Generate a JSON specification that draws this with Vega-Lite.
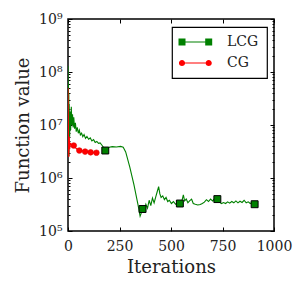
{
  "$schema": "https://vega.github.io/schema/vega-lite/v6.json",
  "width": 206,
  "height": 212,
  "autosize": {"type": "none"},
  "padding": {"left": 68, "top": 19, "right": 29, "bottom": 60},
  "config": {
    "view": {"stroke": "black", "strokeWidth": 1.5},
    "font": "DejaVu Serif",
    "axis": {"domain": false, "grid": false, "labelFont": "DejaVu Serif", "titleFont": "DejaVu Serif", "labelColor": "#222", "titleColor": "#222", "tickColor": "black", "tickWidth": 1, "labelFontSize": 14, "titleFontSize": 18, "titleFontWeight": "normal"}
  },
  "data": {"values": [
    {"series":"LCG","iteration":0,"value":1.3e8,"marker":false},
    {"series":"LCG","iteration":1,"value":2e7,"marker":false},
    {"series":"LCG","iteration":2,"value":6e7,"marker":false},
    {"series":"LCG","iteration":3,"value":8e6,"marker":false},
    {"series":"LCG","iteration":4,"value":4e7,"marker":false},
    {"series":"LCG","iteration":5,"value":2.6e6,"marker":false},
    {"series":"LCG","iteration":6,"value":2.5e7,"marker":false},
    {"series":"LCG","iteration":8,"value":6e6,"marker":false},
    {"series":"LCG","iteration":10,"value":1.8e7,"marker":false},
    {"series":"LCG","iteration":13,"value":8e6,"marker":false},
    {"series":"LCG","iteration":16,"value":2.2e7,"marker":false},
    {"series":"LCG","iteration":19,"value":1e7,"marker":false},
    {"series":"LCG","iteration":22,"value":1.6e7,"marker":false},
    {"series":"LCG","iteration":25,"value":9e6,"marker":false},
    {"series":"LCG","iteration":28,"value":1.4e7,"marker":false},
    {"series":"LCG","iteration":32,"value":8.5e6,"marker":false},
    {"series":"LCG","iteration":36,"value":1.1e7,"marker":false},
    {"series":"LCG","iteration":40,"value":7.5e6,"marker":false},
    {"series":"LCG","iteration":45,"value":9e6,"marker":false},
    {"series":"LCG","iteration":50,"value":7e6,"marker":false},
    {"series":"LCG","iteration":55,"value":8e6,"marker":false},
    {"series":"LCG","iteration":60,"value":6.5e6,"marker":false},
    {"series":"LCG","iteration":66,"value":7e6,"marker":false},
    {"series":"LCG","iteration":72,"value":6e6,"marker":false},
    {"series":"LCG","iteration":78,"value":6.6e6,"marker":false},
    {"series":"LCG","iteration":85,"value":5.6e6,"marker":false},
    {"series":"LCG","iteration":92,"value":6.1e6,"marker":false},
    {"series":"LCG","iteration":100,"value":5.4e6,"marker":false},
    {"series":"LCG","iteration":108,"value":5.7e6,"marker":false},
    {"series":"LCG","iteration":116,"value":5e6,"marker":false},
    {"series":"LCG","iteration":124,"value":5.3e6,"marker":false},
    {"series":"LCG","iteration":132,"value":4.7e6,"marker":false},
    {"series":"LCG","iteration":140,"value":4.9e6,"marker":false},
    {"series":"LCG","iteration":148,"value":4.5e6,"marker":false},
    {"series":"LCG","iteration":156,"value":4.6e6,"marker":false},
    {"series":"LCG","iteration":164,"value":4.2e6,"marker":false},
    {"series":"LCG","iteration":172,"value":3.8e6,"marker":false},
    {"series":"LCG","iteration":181,"value":3.3e6,"marker":true},
    {"series":"LCG","iteration":190,"value":3.5e6,"marker":false},
    {"series":"LCG","iteration":200,"value":3.8e6,"marker":false},
    {"series":"LCG","iteration":215,"value":3.9e6,"marker":false},
    {"series":"LCG","iteration":235,"value":3.85e6,"marker":false},
    {"series":"LCG","iteration":255,"value":3.95e6,"marker":false},
    {"series":"LCG","iteration":268,"value":3.8e6,"marker":false},
    {"series":"LCG","iteration":280,"value":3.1e6,"marker":false},
    {"series":"LCG","iteration":300,"value":1.6e6,"marker":false},
    {"series":"LCG","iteration":320,"value":7.5e5,"marker":false},
    {"series":"LCG","iteration":340,"value":3.1e5,"marker":false},
    {"series":"LCG","iteration":350,"value":1.9e5,"marker":false},
    {"series":"LCG","iteration":356,"value":2.2e5,"marker":false},
    {"series":"LCG","iteration":362,"value":2.6e5,"marker":true},
    {"series":"LCG","iteration":370,"value":2.4e5,"marker":false},
    {"series":"LCG","iteration":378,"value":3.2e5,"marker":false},
    {"series":"LCG","iteration":386,"value":2.7e5,"marker":false},
    {"series":"LCG","iteration":394,"value":3.8e5,"marker":false},
    {"series":"LCG","iteration":402,"value":3.0e5,"marker":false},
    {"series":"LCG","iteration":410,"value":4.2e5,"marker":false},
    {"series":"LCG","iteration":418,"value":3.4e5,"marker":false},
    {"series":"LCG","iteration":426,"value":4.4e5,"marker":false},
    {"series":"LCG","iteration":433,"value":5.5e5,"marker":false},
    {"series":"LCG","iteration":440,"value":6.9e5,"marker":false},
    {"series":"LCG","iteration":446,"value":5.0e5,"marker":false},
    {"series":"LCG","iteration":452,"value":4.3e5,"marker":false},
    {"series":"LCG","iteration":460,"value":4.6e5,"marker":false},
    {"series":"LCG","iteration":468,"value":3.9e5,"marker":false},
    {"series":"LCG","iteration":476,"value":4.3e5,"marker":false},
    {"series":"LCG","iteration":484,"value":3.6e5,"marker":false},
    {"series":"LCG","iteration":492,"value":3.8e5,"marker":false},
    {"series":"LCG","iteration":502,"value":3.3e5,"marker":false},
    {"series":"LCG","iteration":512,"value":3.6e5,"marker":false},
    {"series":"LCG","iteration":522,"value":3.2e5,"marker":false},
    {"series":"LCG","iteration":532,"value":3.4e5,"marker":false},
    {"series":"LCG","iteration":543,"value":3.3e5,"marker":true},
    {"series":"LCG","iteration":552,"value":3.6e5,"marker":false},
    {"series":"LCG","iteration":560,"value":4.8e5,"marker":false},
    {"series":"LCG","iteration":566,"value":3.7e5,"marker":false},
    {"series":"LCG","iteration":574,"value":4.0e5,"marker":false},
    {"series":"LCG","iteration":582,"value":3.4e5,"marker":false},
    {"series":"LCG","iteration":590,"value":3.7e5,"marker":false},
    {"series":"LCG","iteration":600,"value":4.0e5,"marker":false},
    {"series":"LCG","iteration":608,"value":3.3e5,"marker":false},
    {"series":"LCG","iteration":618,"value":3.2e5,"marker":false},
    {"series":"LCG","iteration":630,"value":3.1e5,"marker":false},
    {"series":"LCG","iteration":642,"value":3.15e5,"marker":false},
    {"series":"LCG","iteration":652,"value":3.3e5,"marker":false},
    {"series":"LCG","iteration":662,"value":3.5e5,"marker":false},
    {"series":"LCG","iteration":672,"value":3.9e5,"marker":false},
    {"series":"LCG","iteration":682,"value":3.6e5,"marker":false},
    {"series":"LCG","iteration":692,"value":4.0e5,"marker":false},
    {"series":"LCG","iteration":702,"value":3.7e5,"marker":false},
    {"series":"LCG","iteration":712,"value":4.1e5,"marker":false},
    {"series":"LCG","iteration":725,"value":4.0e5,"marker":true},
    {"series":"LCG","iteration":735,"value":3.5e5,"marker":false},
    {"series":"LCG","iteration":745,"value":3.3e5,"marker":false},
    {"series":"LCG","iteration":755,"value":3.45e5,"marker":false},
    {"series":"LCG","iteration":765,"value":3.3e5,"marker":false},
    {"series":"LCG","iteration":775,"value":3.55e5,"marker":false},
    {"series":"LCG","iteration":785,"value":3.35e5,"marker":false},
    {"series":"LCG","iteration":795,"value":3.6e5,"marker":false},
    {"series":"LCG","iteration":805,"value":3.4e5,"marker":false},
    {"series":"LCG","iteration":815,"value":3.7e5,"marker":false},
    {"series":"LCG","iteration":825,"value":3.4e5,"marker":false},
    {"series":"LCG","iteration":835,"value":3.65e5,"marker":false},
    {"series":"LCG","iteration":845,"value":3.45e5,"marker":false},
    {"series":"LCG","iteration":855,"value":3.8e5,"marker":false},
    {"series":"LCG","iteration":865,"value":3.4e5,"marker":false},
    {"series":"LCG","iteration":875,"value":3.55e5,"marker":false},
    {"series":"LCG","iteration":885,"value":3.3e5,"marker":false},
    {"series":"LCG","iteration":895,"value":3.45e5,"marker":false},
    {"series":"LCG","iteration":906,"value":3.2e5,"marker":true},
    {"series":"CG","iteration":0,"value":5e7,"marker":false},
    {"series":"CG","iteration":1,"value":2e7,"marker":false},
    {"series":"CG","iteration":2,"value":8e6,"marker":false},
    {"series":"CG","iteration":3,"value":3e6,"marker":false},
    {"series":"CG","iteration":4,"value":2.5e6,"marker":false},
    {"series":"CG","iteration":6,"value":6e6,"marker":false},
    {"series":"CG","iteration":8,"value":3.5e6,"marker":false},
    {"series":"CG","iteration":12,"value":4.6e6,"marker":false},
    {"series":"CG","iteration":18,"value":4e6,"marker":false},
    {"series":"CG","iteration":28,"value":4.1e6,"marker":true},
    {"series":"CG","iteration":40,"value":3.6e6,"marker":false},
    {"series":"CG","iteration":55,"value":3.3e6,"marker":true},
    {"series":"CG","iteration":70,"value":3.25e6,"marker":false},
    {"series":"CG","iteration":83,"value":3.15e6,"marker":true},
    {"series":"CG","iteration":97,"value":3.1e6,"marker":false},
    {"series":"CG","iteration":110,"value":3.05e6,"marker":true},
    {"series":"CG","iteration":125,"value":3.0e6,"marker":false},
    {"series":"CG","iteration":138,"value":3.0e6,"marker":true}
  ]},
  "encoding": {
    "x": {"field": "iteration", "type": "quantitative", "scale": {"domain": [0, 1000], "nice": false}, "axis": null},
    "y": {"field": "value", "type": "quantitative", "scale": {"type": "log", "domain": [100000, 1000000000], "nice": false}, "axis": null},
    "color": {"field": "series", "type": "nominal", "scale": {"domain": ["LCG", "CG"], "range": ["#008000", "#ff0000"]}, "legend": {
          "title": null, "orient": "none", "legendX": 104, "legendY": 8,
          "padding": 8, "strokeColor": "black", "fillColor": "white",
          "labelFont": "DejaVu Serif", "labelFontSize": 14, "labelColor": "#222", "labelOffset": 33,
          "rowPadding": 7, "symbolSize": 100, "symbolStrokeWidth": 0, "symbolType": "square",
          "encode": {
            "legend": {"update": {"strokeWidth": {"value": 1.2}}},
            "symbols": {"update": {
            "shape": {"signal": "datum.value === 'LCG' ? 'M-1.7,-0.7H-0.3V0.7H-1.7Z M3.64,-0.7H5.04V0.7H3.64Z M-0.3,-0.1H3.64V0.1H-0.3Z' : 'M-1.62,0A0.62,0.62,0,1,0,-0.38,0A0.62,0.62,0,1,0,-1.62,0Z M3.72,0A0.62,0.62,0,1,0,4.96,0A0.62,0.62,0,1,0,3.72,0Z M-0.4,-0.1H3.74V0.1H-0.4Z'"},
            "fill": {"signal": "datum.value === 'LCG' ? '#008000' : '#ff0000'"},
            "stroke": {"value": "transparent"},
            "opacity": {"value": 1}
          }}}
        }}
  },
  "layer": [
    {
      "transform": [{"filter": "datum.series === 'LCG'"}],
      "mark": {"type": "line", "strokeWidth": 1.1, "clip": true},
      "encoding": {
        "x": {"field": "iteration", "type": "quantitative", "axis": {"orient": "bottom", "values": [0, 250, 500, 750, 1000], "format": "d", "tickSize": -4, "labelPadding": 12, "title": "Iterations", "titlePadding": 5, "labelFlush": false}},
        "y": {"field": "value", "type": "quantitative", "axis": {"orient": "left", "values": [100000,200000,300000,400000,500000,600000,700000,800000,900000,1000000,2000000,3000000,4000000,5000000,6000000,7000000,8000000,9000000,10000000,20000000,30000000,40000000,50000000,60000000,70000000,80000000,90000000,100000000,200000000,300000000,400000000,500000000,600000000,700000000,800000000,900000000,1000000000], "tickSize": {"condition": {"test": "abs(log(datum.value)/LN10 - round(log(datum.value)/LN10)) < 0.000001", "value": -4}, "value": -2}, "labelPadding": 10, "labelOverlap": false, "labelFlush": false, "labelExpr": "datum.value === 100000 ? '10⁵' : datum.value === 1000000 ? '10⁶' : datum.value === 10000000 ? '10⁷' : datum.value === 100000000 ? '10⁸' : datum.value === 1000000000 ? '10⁹' : ''", "title": "Function value", "titlePadding": 6}}
      }
    },
    {
      "transform": [{"filter": "datum.series === 'LCG' && datum.marker"}],
      "mark": {"type": "point", "shape": "square", "filled": true, "size": 48, "stroke": "black", "strokeWidth": 1, "opacity": 1},
      "encoding": {
        "x": {"field": "iteration", "type": "quantitative", "axis": {"orient": "top", "values": [0, 250, 500, 750, 1000], "tickSize": -4, "labels": false, "title": null}},
        "y": {"field": "value", "type": "quantitative", "axis": {"orient": "right", "values": [100000,200000,300000,400000,500000,600000,700000,800000,900000,1000000,2000000,3000000,4000000,5000000,6000000,7000000,8000000,9000000,10000000,20000000,30000000,40000000,50000000,60000000,70000000,80000000,90000000,100000000,200000000,300000000,400000000,500000000,600000000,700000000,800000000,900000000,1000000000], "tickSize": {"condition": {"test": "abs(log(datum.value)/LN10 - round(log(datum.value)/LN10)) < 0.000001", "value": -4}, "value": -2}, "labels": false, "title": null}}
      }
    },
    {
      "transform": [{"filter": "datum.series === 'CG'"}],
      "mark": {"type": "line", "strokeWidth": 1.1, "clip": true}
    },
    {
      "transform": [{"filter": "datum.series === 'CG' && datum.marker"}],
      "mark": {"type": "point", "shape": "circle", "filled": true, "size": 32, "stroke": "#e00000", "strokeWidth": 0.6, "opacity": 1}
    }
  ]
}
